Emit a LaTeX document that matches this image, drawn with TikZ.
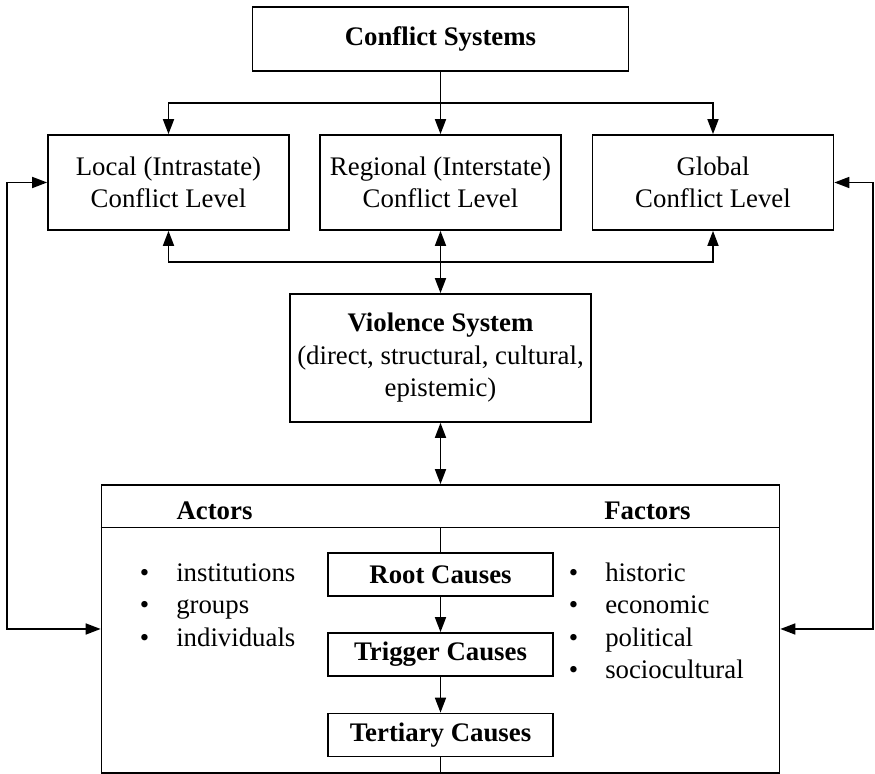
\documentclass[tikz,border=0pt]{standalone}
\usepackage{fontspec}
\setmainfont{Liberation Serif}
\usetikzlibrary{arrows.meta}
\usetikzlibrary{positioning}
\newcommand{\txtsize}{\fontsize{13.4}{16.25}\selectfont}
\tikzset{box/.style={draw, line width=0.85pt, align=center, inner sep=0pt},
levelbox/.style={box, minimum width=120.5pt, minimum height=47.5pt},
causebox/.style={box, minimum width=112.5pt, minimum height=21.5pt, font=\txtsize\bfseries},
link/.style={line width=0.85pt},
arr/.style={link, -{Triangle[length=7.5pt, width=5.5pt]}},
darr/.style={link, {Triangle[length=7.5pt, width=5.5pt]}-{Triangle[length=7.5pt, width=5.5pt]}}}
\begin{document}
\begin{tikzpicture}[x=0.5pt, y=-0.5pt, font=\txtsize]

	\useasboundingbox (0,0) rectangle (875,774);

	% top levels
	\node[box, minimum width=188pt, minimum height=32pt, font=\txtsize\bfseries] (sys) at (440.5,39) {Conflict Systems};
	\node[levelbox] (local) at (168.5,182.5) {Local (Intrastate)\\Conflict Level};
	\node[levelbox] (regional) at (440.5,182.5) {Regional (Interstate)\\Conflict Level};
	\node[levelbox] (global) at (713,182.5) {Global\\Conflict Level};
	\node[box, minimum width=150.5pt, minimum height=64pt] (viol) at (440.5,358) {\textbf{Violence System}\\(direct, structural, cultural,\\epistemic)};

	% actors and factors frame
	\node[box, minimum width=339pt, minimum height=144pt] (frame) at (440.5,629) {};
	\coordinate (hdm) at (440.5,527.5);
	\draw[link] (frame.west |- hdm) -- (frame.east |- hdm);
	\node[font=\txtsize\bfseries] (actors) at (214.5,511) {Actors};
	\node[font=\txtsize\bfseries] (factors) at (647.5,511) {Factors};

	\node[causebox] (root) at (440.5,574.5) {Root Causes};
	\node[causebox] (trigger) at (440.5,654.5) {Trigger Causes};
	\node[causebox] (tertiary) at (440.5,735) {Tertiary Causes};

	\node[anchor=west, inner sep=0pt] (actlist) at (139.5,607.5) {\begin{tabular}{@{}l@{\hspace{13.5pt}}l@{}}
		\textbullet & institutions\\
		\textbullet & groups\\
		\textbullet & individuals
	\end{tabular}};
	\node[anchor=west, inner sep=0pt] (faclist) at (568.5,623.5) {\begin{tabular}{@{}l@{\hspace{13.5pt}}l@{}}
		\textbullet & historic\\
		\textbullet & economic\\
		\textbullet & political\\
		\textbullet & sociocultural
	\end{tabular}};

	% connectors
	\coordinate (split) at (440.5,103);
	\coordinate (join) at (440.5,262);
	\coordinate (lft) at (7,182.5);
	\coordinate (rgt) at (873,182.5);

	\draw[arr] (sys) -- (regional);
	\draw[arr] (split) -| (local);
	\draw[arr] (split) -| (global);
	\draw[arr] (join) -| (local);
	\draw[arr] (join) -| (global);
	\draw[darr] (regional) -- (viol);
	\draw[darr] (viol) -- (frame);
	\draw[link] (hdm) -- (root);
	\draw[arr] (root) -- (trigger);
	\draw[arr] (trigger) -- (tertiary);
	\draw[link] (tertiary) -- (frame.south);
	\draw[darr] (local) -- (lft) |- (frame.west);
	\draw[darr] (global) -- (rgt) |- (frame.east);
\end{tikzpicture}
\end{document}
